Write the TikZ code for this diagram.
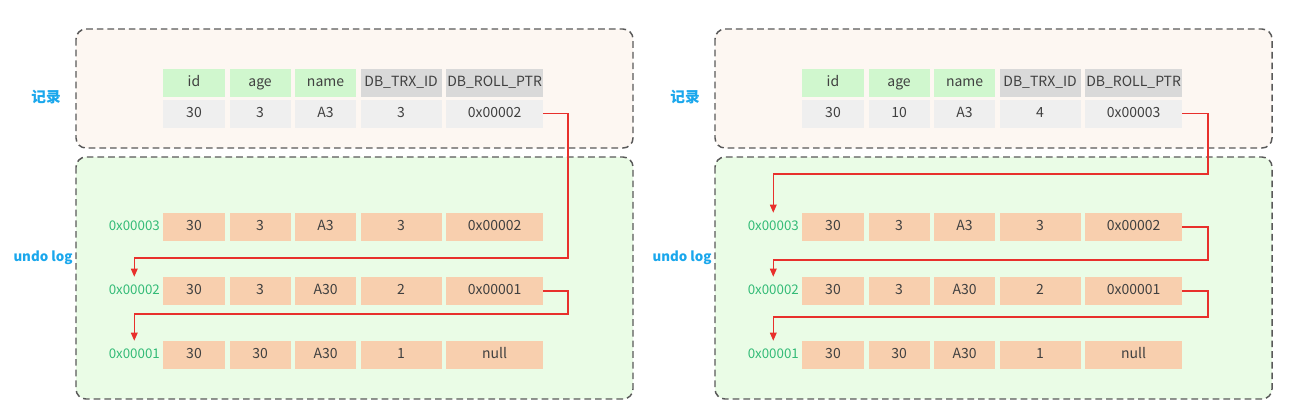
\documentclass[tikz,border=0pt]{standalone}
\usepackage{fontspec}
\setmainfont{Noto Sans CJK SC}
\usepackage{tikz}
\usetikzlibrary{arrows.meta,positioning}
\definecolor{hdrgreen}{HTML}{D0F7CE}
\definecolor{hdrgrey}{HTML}{D9D9D9}
\definecolor{recgrey}{HTML}{EFEFEF}
\definecolor{logpeach}{HTML}{F8CFAE}
\definecolor{recfill}{HTML}{FDF7F2}
\definecolor{logfill}{HTML}{EAFCE6}
\definecolor{edgegrey}{HTML}{595959}
\definecolor{tagblue}{HTML}{1AA7EC}
\definecolor{addrgreen}{HTML}{33BB77}
\definecolor{ptrred}{HTML}{E8302C}
\tikzset{
  cell/.style={minimum height=21pt, inner sep=0pt, text height=8pt, text depth=2.5pt, text=black!75, font=\fontsize{10.5}{12}\selectfont},
  wid/.style={minimum width=46.5pt},
  wage/.style={minimum width=45.75pt},
  wname/.style={minimum width=45.75pt},
  wtrx/.style={minimum width=60.75pt},
  wroll/.style={minimum width=72.75pt},
  panel/.style={draw=edgegrey, line width=1.1pt, dash pattern=on 5pt off 3pt, rounded corners=7.5pt},
  addr/.style={minimum height=21pt, inner sep=0pt, text height=7.5pt, text depth=2pt, text=addrgreen, font=\fontsize{10}{12}\selectfont},
  tag/.style={text=tagblue, font=\fontsize{11}{12}\bfseries},
  ptr/.style={draw=ptrred, line width=0.9pt, -{Triangle[length=6pt,width=5pt]}}
}

\begin{document}
\begin{tikzpicture}[x=0.75pt, y=-0.75pt]
  \useasboundingbox (0,0) rectangle (1313,419);

  \foreach \p/\dx/\age/\trx/\ptr in {L/0/3/3/0x00002, R/639/10/4/0x00003}{
    \begin{scope}[xshift=\dx*0.75pt]
      % boxes
      \draw[panel, fill=recfill] (76,29) rectangle (633,148);
      \draw[panel, fill=logfill] (76,157) rectangle (633,399);
      \node[tag] (\p-rectag) at (46,97) {记录};
      \node[tag, font=\fontsize{10}{12}\bfseries] (\p-logtag) at (43,258) {undo log};

      % record
      \node[cell, wid, fill=hdrgreen] (\p hdr-id) at (194,82.5) {id};
      \node[cell, wage, fill=hdrgreen, right=3pt of \p hdr-id] (\p hdr-age) {age};
      \node[cell, wname, fill=hdrgreen, right=3pt of \p hdr-age] (\p hdr-name) {name};
      \node[cell, wtrx, fill=hdrgrey, right=3pt of \p hdr-name] (\p hdr-trx) {DB\_TRX\_ID};
      \node[cell, wroll, fill=hdrgrey, right=3pt of \p hdr-trx] (\p hdr-roll) {DB\_ROLL\_PTR};
      \node[cell, wid, fill=recgrey] (\p rec-id) at (194,113.5) {30};
      \node[cell, wage, fill=recgrey, right=3pt of \p rec-id] (\p rec-age) {\age};
      \node[cell, wname, fill=recgrey, right=3pt of \p rec-age] (\p rec-name) {A3};
      \node[cell, wtrx, fill=recgrey, right=3pt of \p rec-name] (\p rec-trx) {\trx};
      \node[cell, wroll, fill=recgrey, right=3pt of \p rec-trx] (\p rec-roll) {\ptr};

      % undo log
      \foreach \r/\y/\a/\b/\c/\d/\e in {3/227/30/3/A3/3/0x00002, 2/291/30/3/A30/2/0x00001, 1/355/30/30/A30/1/null}{
        \node[cell, wid, fill=logpeach] (\p\r-id) at (194,\y) {\a};
        \node[cell, wage, fill=logpeach, right=3pt of \p\r-id] (\p\r-age) {\b};
        \node[cell, wname, fill=logpeach, right=3pt of \p\r-age] (\p\r-name) {\c};
        \node[cell, wtrx, fill=logpeach, right=3pt of \p\r-name] (\p\r-trx) {\d};
        \node[cell, wroll, fill=logpeach, right=3pt of \p\r-trx] (\p\r-roll) {\e};
        \node[addr, left=2pt of \p\r-id] (\p\r-addr) {0x0000\r};
      }
    \end{scope}
  }

  % roll pointers
  \coordinate (Lturn0) at (568,258);
  \coordinate (Lturn1) at (568,314);
  \draw[ptr] (Lrec-roll.east) -| (Lturn0) -| (L2-addr.north);
  \draw[ptr] (L2-roll.east) -| (Lturn1) -| (L1-addr.north);

  \coordinate (Rturn0) at (1208,174);
  \coordinate (Rturn1) at (1208,260);
  \coordinate (Rturn2) at (1208,317);
  \draw[ptr] (Rrec-roll.east) -| (Rturn0) -| (R3-addr.north);
  \draw[ptr] (R3-roll.east) -| (Rturn1) -| (R2-addr.north);
  \draw[ptr] (R2-roll.east) -| (Rturn2) -| (R1-addr.north);
\end{tikzpicture}
\end{document}
